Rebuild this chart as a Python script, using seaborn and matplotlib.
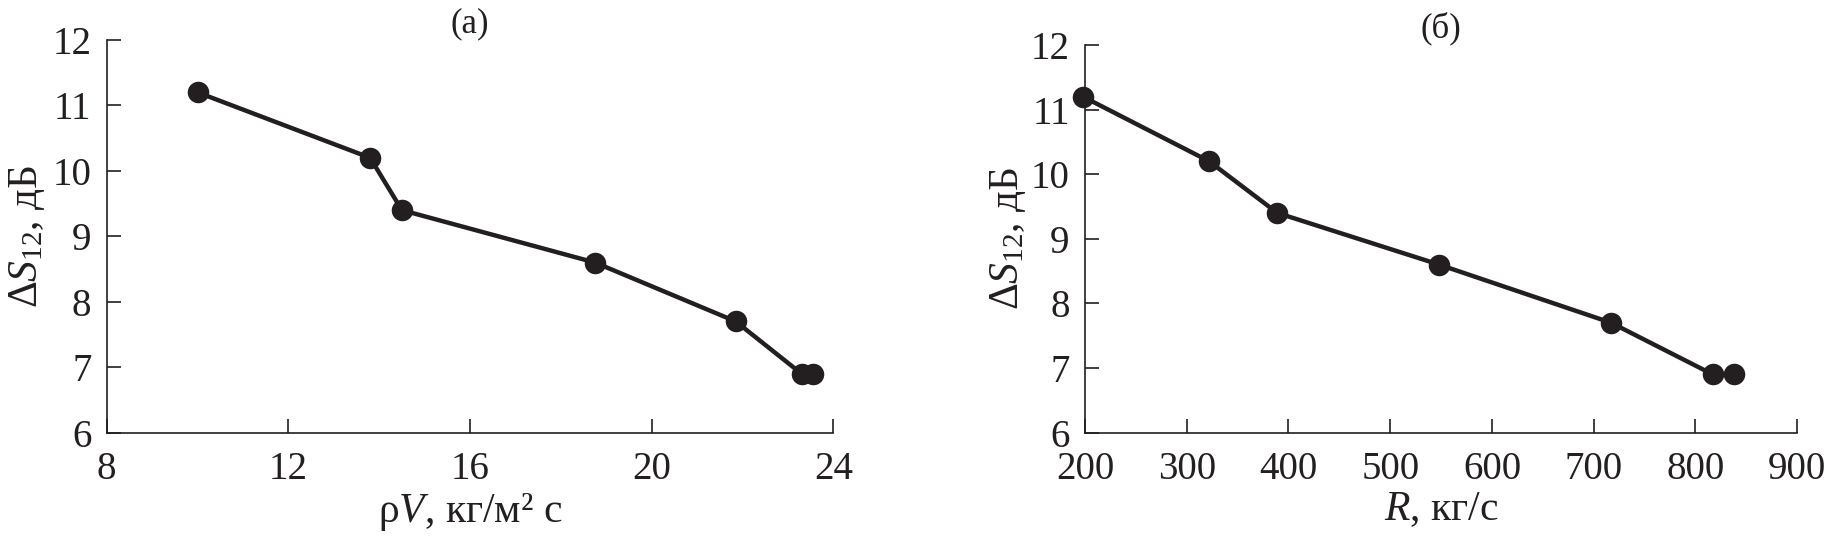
import matplotlib
matplotlib.use("Agg")
import matplotlib.pyplot as plt
import seaborn as sns
import pandas as pd

# ---- data ----
rho_v = [10.0, 13.8, 14.5, 18.75, 21.85, 23.3, 23.55]          # ρV, кг/м² с
flow_r = [198, 322, 389, 548, 717, 817, 838]                    # R, кг/с
delta_s_a = [11.2, 10.2, 9.4, 8.6, 7.7, 6.9, 6.9]               # ΔS12, дБ (a)
delta_s_b = [11.2, 10.2, 9.4, 8.6, 7.7, 6.9, 6.9]               # ΔS12, дБ (б)

xticks_a = [8, 12, 16, 20, 24]
xticks_b = [200, 300, 400, 500, 600, 700, 800, 900]
yticks = [6, 7, 8, 9, 10, 11, 12]

titles = ["(a)", "(б)"]
xlabels = ["ρ$V$, кг/м² с", "$R$, кг/с"]
ylabel = "Δ$S_{12}$, дБ"

sns.set_theme(style="ticks")
plt.rcParams["font.family"] = ["Liberation Serif", "DejaVu Serif"]
plt.rcParams["mathtext.fontset"] = "custom"
plt.rcParams["mathtext.rm"] = "Liberation Serif"
plt.rcParams["mathtext.it"] = "Liberation Serif:italic"
plt.rcParams["mathtext.bf"] = "Liberation Serif:bold"

INK = "#231f20"

fig = plt.figure(figsize=(18.29, 5.42), dpi=100)
ax_a = fig.add_axes([0.05834, 0.2017, 0.3973, 0.7245])
ax_b = fig.add_axes([0.5932, 0.2020, 0.3894, 0.7150])

df_a = pd.DataFrame({"x": rho_v, "y": delta_s_a})
df_b = pd.DataFrame({"x": flow_r, "y": delta_s_b})

panels = [
    (ax_a, df_a, (8, 24), xticks_a, titles[0], xlabels[0], -0.082),
    (ax_b, df_b, (200, 900), xticks_b, titles[1], xlabels[1], -0.080),
]

for ax, df, xlim, xt, title, xl, ylab_x in panels:
    sns.lineplot(data=df, x="x", y="y", ax=ax, color=INK, linewidth=3.2,
                 marker="o", markersize=15.5, markeredgewidth=0,
                 markerfacecolor=INK, clip_on=False, zorder=5, sort=False)
    ax.set_xlim(*xlim)
    ax.set_ylim(6, 12)
    ax.set_xticks(xt)
    ax.set_yticks(yticks)
    sns.despine(ax=ax)
    for sp in ("left", "bottom"):
        ax.spines[sp].set_linewidth(1.2)
        ax.spines[sp].set_color(INK)
    ax.tick_params(axis="both", direction="in", length=10, width=1.2,
                   colors=INK, labelsize=28)
    ax.tick_params(axis="x", pad=13)
    ax.tick_params(axis="y", pad=11)
    ax.set_xlabel(xl, fontsize=30, color=INK, labelpad=2)
    ax.set_ylabel(ylabel, fontsize=30, color=INK)
    ax.yaxis.set_label_coords(ylab_x, 0.5)
    ax.text(0.5, 1.0, title, transform=ax.transAxes, ha="center",
            va="bottom", fontsize=25, color=INK)

fig.savefig("out.png", dpi=100)
